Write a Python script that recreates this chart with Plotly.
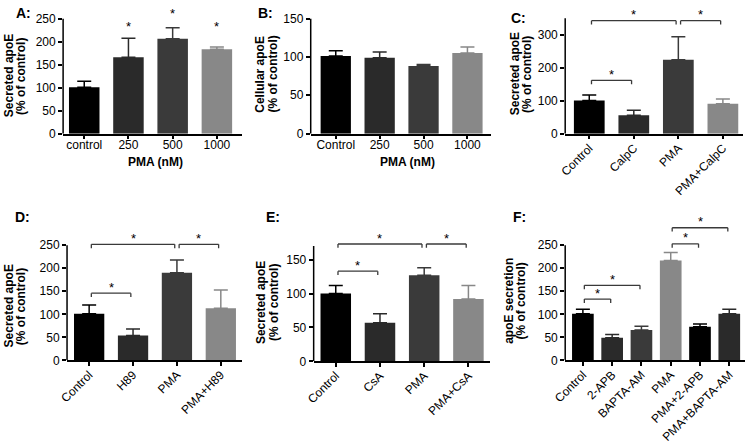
import plotly.graph_objects as go

W, H = 745, 444
FONT = "Liberation Sans, Arial, Helvetica, sans-serif"

K, D1, D2, G = "#000000", "#2a2a2a", "#3a3a3a", "#888888"

# ---- Panel A ----
a_labels = ["control", "250", "500", "1000"]
a_means = [101, 166, 206, 183]
a_errs = [13, 41, 24, 5]
a_colors = [K, D1, D2, G]
a_star_y = [None, 240, 267, 240]

# ---- Panel B ----
b_labels = ["Control", "250", "500", "1000"]
b_means = [101, 99, 88, 105]
b_errs = [7, 7.5, 2, 8]
b_colors = [K, D1, D2, G]

# ---- Panel C ----
c_labels = ["Control", "CalpC", "PMA", "PMA+CalpC"]
c_means = [101, 56, 224, 91]
c_errs = [16, 15, 70, 14]
c_colors = [K, D1, D2, G]
c_brackets = [(0, 1, 162), (0, 2, 343), (2, 3, 343)]

# ---- Panel D ----
d_labels = ["Control", "H89", "PMA", "PMA+H89"]
d_means = [101, 54, 190, 113]
d_errs = [19, 14, 28, 40]
d_colors = [K, D1, D2, G]
d_brackets = [(0, 1, 146), (0, 2, 252), (2, 3, 252)]

# ---- Panel E ----
e_labels = ["Control", "CsA", "PMA", "PMA+CsA"]
e_means = [100, 57, 127, 92]
e_errs = [12, 13, 11, 20]
e_colors = [K, D1, D2, G]
e_brackets = [(0, 1, 133), (0, 2, 173), (2, 3, 173)]

# ---- Panel F ----
f_labels = ["Control", "2-APB", "BAPTA-AM", "PMA", "PMA+2-APB", "PMA+BAPTA-AM"]
f_means = [101, 49, 66, 217, 73, 101]
f_errs = [10, 7, 8, 17, 6, 10]
f_colors = [K, D1, D2, G, K, D1]
f_brackets = [(0, 1, 133), (0, 2, 163), (3, 4, 253), (3, 5, 288)]

TSH = -11  # horizontal correction for rotated title annotations

# layout geometry (pixels) for each panel
panels = [
    dict(letter="A:", lx=1, ly=6, labels=a_labels, means=a_means, errs=a_errs, colors=a_colors,
         stars=a_star_y, brackets=[], x0=51, x1=233, c0=72.5, sp=45, bw=0.69,
         zero=132, unit=0.48, ytop=250, ymax=250, dtick=50, angle=0, so=-5,
         t1="Secreted apoE", tx=(7, 19), ty=72, xtitle="PMA (nM)", xtx=145, xty=162),
    dict(letter="B:", lx=247, ly=6, labels=b_labels, means=b_means, errs=b_errs, colors=b_colors,
         stars=None, brackets=[], x0=303, x1=486, c0=328.5, sp=44.67, bw=0.69,
         zero=132, unit=0.8, ytop=150, ymax=150, dtick=50, angle=0, so=-5,
         t1="Cellular apoE", tx=(263, 276), ty=70, xtitle="PMA (nM)", xtx=401, xty=162),
    dict(letter="C:", lx=505, ly=11, labels=c_labels, means=c_means, errs=c_errs, colors=c_colors,
         stars=None, brackets=c_brackets, x0=562, x1=743, c0=586.5, sp=45.33, bw=0.69,
         zero=132, unit=0.3433, ytop=350, ymax=352, dtick=100, angle=-45, so=-3,
         t1="Secreted apoE", tx=(522, 534), ty=70, xtitle=None),
    dict(letter="D:", lx=0, ly=219, labels=d_labels, means=d_means, errs=d_errs, colors=d_colors,
         stars=None, brackets=d_brackets, x0=55, x1=233, c0=77.5, sp=44.67, bw=0.69,
         zero=368.3, unit=0.48, ytop=250, ymax=258, dtick=50, angle=-45, so=-3,
         t1="Secreted apoE", tx=(7, 20), ty=312, xtitle=None),
    dict(letter="E:", lx=255, ly=219, labels=e_labels, means=e_means, errs=e_errs, colors=e_colors,
         stars=None, brackets=e_brackets, x0=306, x1=485, c0=328.5, sp=45, bw=0.69,
         zero=369.3, unit=0.7067, ytop=170, ymax=176, dtick=50, angle=-45, so=-3,
         t1="Secreted apoE", tx=(263, 276), ty=308, xtitle=None),
    dict(letter="F:", lx=507, ly=219, labels=f_labels, means=f_means, errs=f_errs, colors=f_colors,
         stars=None, brackets=f_brackets, x0=562, x1=745, c0=580, sp=29.8, bw=0.74,
         zero=368.3, unit=0.48, ytop=250, ymax=293, dtick=50, angle=-45, so=-3,
         t1="apoE secretion", tx=(515, 528), ty=306, xtitle=None),
]

fig = go.Figure()
shapes, annotations = [], []


def px_x(p):
    return p / W


def px_y(p):
    return 1 - p / H


for k, P in enumerate(panels, start=1):
    sx = "" if k == 1 else str(k)
    xa, ya = "x" + sx, "y" + sx
    for lab, m, e, c in zip(P["labels"], P["means"], P["errs"], P["colors"]):
        fig.add_trace(go.Bar(
            x=[lab], y=[m], width=P["bw"], marker=dict(color=c, line=dict(width=0)),
            error_y=dict(type="data", symmetric=False, array=[e], arrayminus=[0],
                         color=c, thickness=1.5, width=7),
            xaxis=xa, yaxis=ya, showlegend=False, hoverinfo="skip"))

    xr = [(P["x0"] - P["c0"]) / P["sp"], (P["x1"] - P["c0"]) / P["sp"]]
    top_px = P["zero"] - P["ymax"] * P["unit"]
    tickv = [t for t in range(0, P["ytop"] + 1, P["dtick"]) if t <= P["ytop"]]
    fig.update_layout(**{
        "xaxis" + sx: dict(domain=[px_x(P["x0"]), px_x(P["x1"])], range=xr, anchor=ya,
                           type="category", categoryorder="array", categoryarray=P["labels"],
                           showline=True, linecolor="black", linewidth=1.5, showgrid=False,
                           zeroline=False, ticks="outside", ticklen=4, tickwidth=1.5,
                           tickcolor="black", tickangle=P["angle"], ticklabelstandoff=P["so"],
                           tickfont=dict(family=FONT, size=12, color="black")),
        "yaxis" + sx: dict(domain=[px_y(P["zero"]), px_y(top_px)], range=[0, P["ymax"]],
                           anchor=xa, showline=False, showgrid=False, zeroline=False,
                           ticks="outside", ticklen=4, tickwidth=1.5, tickcolor="black",
                           tickvals=tickv, tickfont=dict(family=FONT, size=12, color="black")),
    })
    # y axis line up to top value
    shapes.append(dict(type="line", xref=xa + " domain", yref=ya, x0=0, x1=0, y0=0, y1=P["ytop"],
                       line=dict(color="black", width=1.5)))
    # brackets
    drop = 4 / P["unit"]
    for i, j, yb in P["brackets"]:
        xi, xj = i + 0.05, j - 0.05
        for (ax0, ay0, ax1, ay1) in [(xi, yb, xj, yb), (xi, yb - drop, xi, yb), (xj, yb - drop, xj, yb)]:
            shapes.append(dict(type="line", xref=xa, yref=ya, x0=ax0, x1=ax1, y0=ay0, y1=ay1,
                               line=dict(color="#3a3a3a", width=1.3)))
        annotations.append(dict(x=(i + j) / 2, y=yb, xref=xa, yref=ya, text="*", showarrow=False,
                                yanchor="middle", yshift=6,
                                font=dict(family=FONT, size=13, color="black")))
    # stars without brackets
    if P["stars"]:
        for i, sy in enumerate(P["stars"]):
            if sy is None:
                continue
            anchor = min(sy, P["ymax"])
            annotations.append(dict(x=i, y=anchor, xref=xa, yref=ya, text="*", showarrow=False,
                                    yanchor="middle", yshift=(sy - anchor) * P["unit"] - 3,
                                    font=dict(family=FONT, size=13, color="black")))
    # panel letter
    annotations.append(dict(x=px_x(P["lx"]), y=px_y(P["ly"]), xref="paper", yref="paper",
                            text="<b>" + P["letter"] + "</b>", showarrow=False,
                            xanchor="left", yanchor="middle",
                            font=dict(family=FONT, size=14, color="black")))
    # y titles (two lines)
    for txt, tx in zip([P["t1"], "(% of control)"], P["tx"]):
        annotations.append(dict(x=px_x(tx + TSH), y=px_y(P["ty"]), xref="paper", yref="paper",
                                text="<b>" + txt + "</b>", showarrow=False, textangle=-90,
                                xanchor="center", yanchor="middle",
                                font=dict(family=FONT, size=12, color="black")))
    if P["xtitle"]:
        annotations.append(dict(x=px_x(P["xtx"]), y=px_y(P["xty"]), xref="paper", yref="paper",
                                text="<b>" + P["xtitle"] + "</b>", showarrow=False,
                                xanchor="center", yanchor="middle",
                                font=dict(family=FONT, size=12, color="black")))

fig.update_layout(width=W, height=H, margin=dict(l=0, r=0, t=0, b=0),
                  paper_bgcolor="white", plot_bgcolor="white", barmode="overlay",
                  shapes=shapes, annotations=annotations, showlegend=False)

fig.write_html("out.html", config={"displayModeBar": False},
               post_script="document.body.style.margin='0';document.body.style.overflow='hidden';")
